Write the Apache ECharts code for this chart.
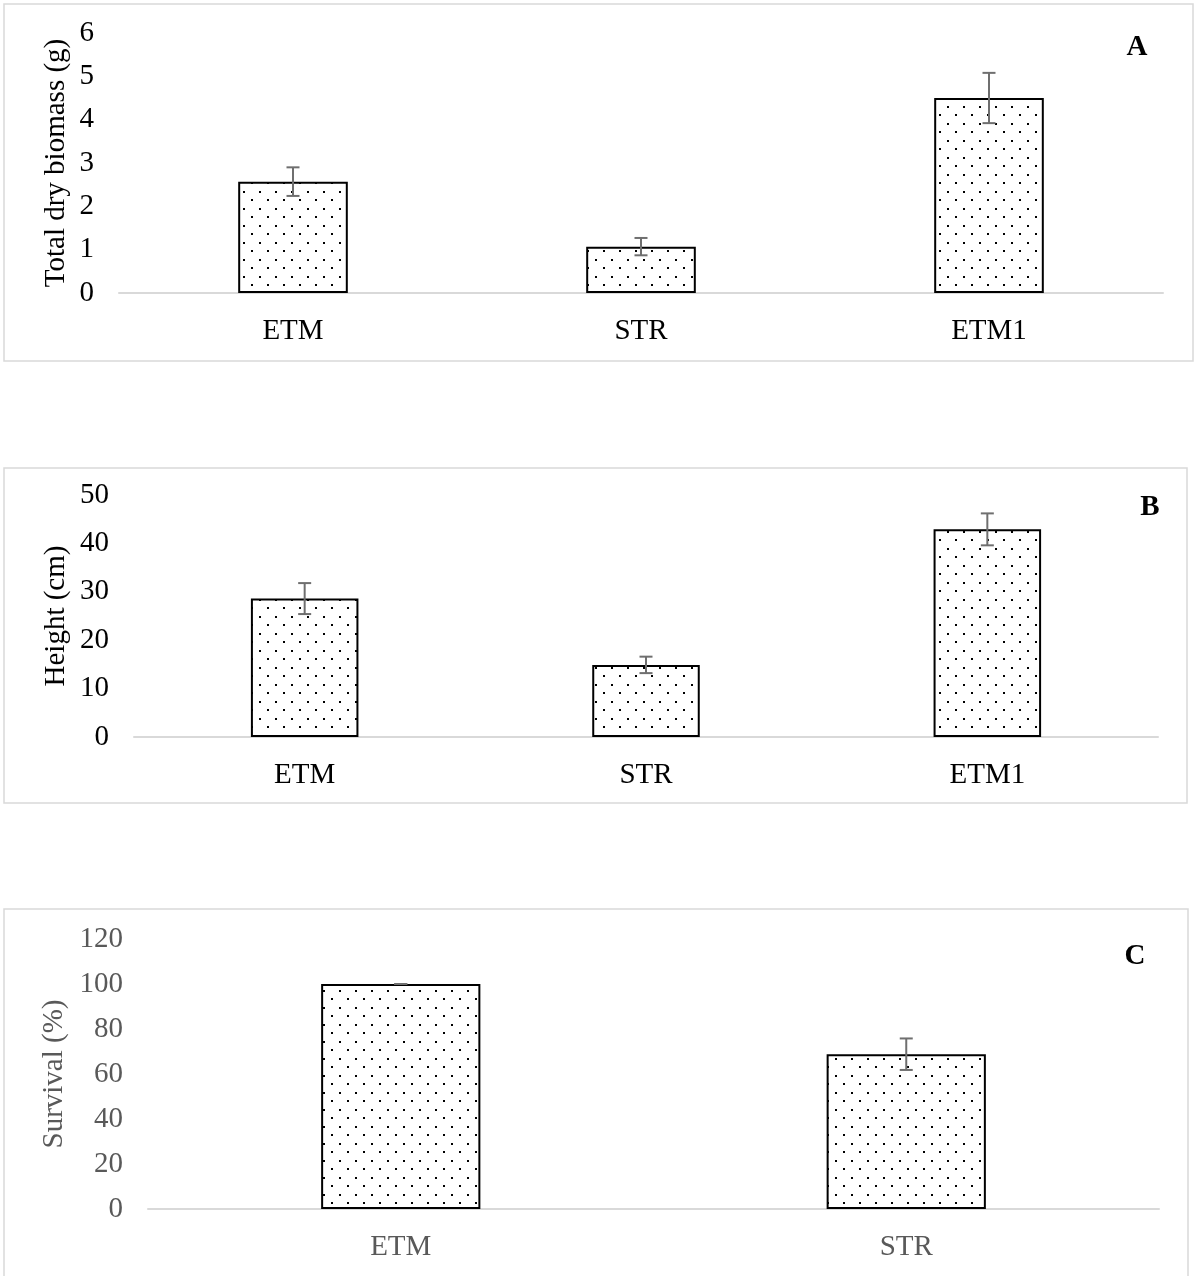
<!DOCTYPE html>
<html>
<head>
<meta charset="utf-8">
<script src="https://cdn.jsdelivr.net/npm/echarts@6/dist/echarts.min.js"></script>
<style>
html,body{margin:0;padding:0;background:#fff;}
#chart{width:1198px;height:1276px;}
</style>
</head>
<body>
<div id="chart"></div>
<script>
// ---- data ----
const catsAB = ['ETM', 'STR', 'ETM1'];
const catsC = ['ETM', 'STR'];
const biomass = [2.57, 1.07, 4.5];
const biomassErr = [0.33, 0.2, 0.58];
const height = [28.6, 14.9, 42.9];
const heightErr = [3.2, 1.7, 3.3];
const survival = [100, 68.8];
const survivalErr = [0, 7];
const ticksA = {min: 0, max: 6, interval: 1};
const ticksB = {min: 0, max: 50, interval: 10};
const ticksC = {min: 0, max: 120, interval: 20};

// ---- dot pattern ----
function makePattern() {
  const c = document.createElement('canvas');
  c.width = 16;
  c.height = 17;
  const g = c.getContext('2d');
  g.fillStyle = '#fff';
  g.fillRect(0, 0, 16, 17);
  g.fillStyle = '#000';
  g.fillRect(3, 4, 2, 2);
  g.fillRect(11, 12, 2, 2);
  return c;
}
const pat = makePattern();
const FONT = '"Liberation Serif", "Times New Roman", serif';
const FS = 29;

function frame(x, y, w, h) {
  return {type: 'rect', shape: {x: x, y: y, width: w, height: h},
    style: {fill: 'none', stroke: '#d9d9d9', lineWidth: 1.5}, silent: true, z: -1};
}
function letter(txt, x, y) {
  return {type: 'text', x: x, y: y, style: {text: txt, font: 'bold 29px ' + FONT, fill: '#000', textAlign: 'center', textVerticalAlign: 'middle'}};
}

function xAxisDef(idx, cats, color) {
  return {type: 'category', gridIndex: idx, data: cats,
    axisLine: {lineStyle: {color: '#d9d9d9', width: 2}}, axisTick: {show: false},
    axisLabel: {color: color, fontFamily: FONT, fontSize: FS, margin: 24}};
}
function yAxisDef(idx, t, name, gap, color) {
  return {type: 'value', gridIndex: idx, min: t.min, max: t.max, interval: t.interval,
    name: name, nameLocation: 'middle', nameGap: gap, nameMoveOverlap: false,
    nameTextStyle: {color: color, fontFamily: FONT, fontSize: FS},
    axisLine: {show: false}, axisTick: {show: false}, splitLine: {show: false},
    axisLabel: {color: color, fontFamily: FONT, fontSize: FS, margin: 25}};
}
function barSeries(idx, vals) {
  return {type: 'bar', xAxisIndex: idx, yAxisIndex: idx, data: vals, barWidth: '31.5%',
    itemStyle: {color: {image: pat, repeat: 'repeat'}, borderColor: '#000', borderWidth: 2},
    silent: true, animation: false};
}
function errSeries(idx, vals, errs) {
  const d = vals.map((v, i) => [i, v, errs[i]]);
  return {type: 'custom', xAxisIndex: idx, yAxisIndex: idx, data: d, silent: true, animation: false, z: 5,
    renderItem: function (params, api) {
      const i = api.value(0), v = api.value(1), e = api.value(2);
      const top = api.coord([i, v + e]);
      const bot = api.coord([i, v - e]);
      const st = {stroke: '#6f6f6f', lineWidth: 2};
      const hw = 6.5;
      return {type: 'group', children: [
        {type: 'line', shape: {x1: top[0], y1: top[1], x2: bot[0], y2: bot[1]}, style: st},
        {type: 'line', shape: {x1: top[0] - hw, y1: top[1], x2: top[0] + hw, y2: top[1]}, style: st},
        {type: 'line', shape: {x1: bot[0] - hw, y1: bot[1], x2: bot[0] + hw, y2: bot[1]}, style: st}
      ]};
    }};
}

const chart = echarts.init(document.getElementById('chart'), null, {renderer: 'canvas'});
chart.setOption({
  animation: false,
  backgroundColor: '#fff',
  grid: [
    {left: 119, right: 35, top: 33, height: 260},
    {left: 134, right: 40, top: 495, height: 242},
    {left: 148, right: 39, top: 939, height: 270}
  ],
  xAxis: [xAxisDef(0, catsAB, '#000'), xAxisDef(1, catsAB, '#000'), xAxisDef(2, catsC, '#595959')],
  yAxis: [
    yAxisDef(0, ticksA, 'Total dry biomass (g)', 48, '#000'),
    yAxisDef(1, ticksB, 'Height (cm)', 63, '#000'),
    yAxisDef(2, ticksC, 'Survival (%)', 79, '#595959')
  ],
  series: [
    barSeries(0, biomass), errSeries(0, biomass, biomassErr),
    barSeries(1, height), errSeries(1, height, heightErr),
    barSeries(2, survival), errSeries(2, survival, survivalErr)
  ],
  graphic: [
    frame(4, 4, 1189, 357),
    frame(4, 468, 1183, 335),
    frame(4, 909, 1184, 400),
    letter('A', 1137, 48),
    letter('B', 1150, 508),
    letter('C', 1135, 957)
  ]
});
</script>
</body>
</html>
